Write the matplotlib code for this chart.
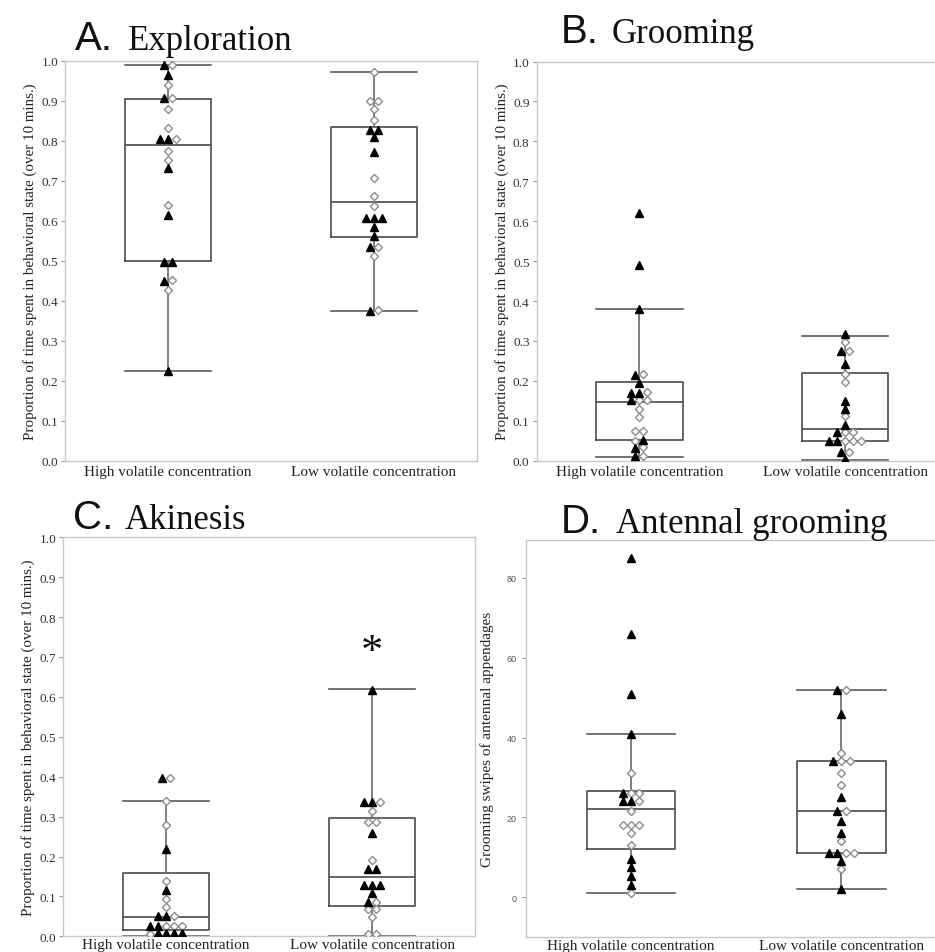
import numpy as np
import matplotlib.pyplot as plt

W, H = 935, 953
SERIF = 'Liberation Serif'
SANS = 'Liberation Sans'

groups = ['High volatile concentration', 'Low volatile concentration']

# A. Exploration - proportion of 10 min; triangles = filled, diamonds = open
expl_high_tri = [0.99, 0.965, 0.907, 0.805, 0.805, 0.732, 0.615, 0.497, 0.497, 0.451, 0.225]
expl_high_dia = [0.99, 0.941, 0.907, 0.88, 0.833, 0.805, 0.776, 0.753, 0.641, 0.452, 0.428]
expl_low_tri = [0.828, 0.828, 0.809, 0.772, 0.607, 0.607, 0.607, 0.584, 0.563, 0.536, 0.375]
expl_low_dia = [0.973, 0.901, 0.901, 0.88, 0.853, 0.7075, 0.662, 0.638, 0.536, 0.513, 0.377]
# whisker low, Q1, median, Q3, whisker high
expl_box = [[0.225, 0.50, 0.79, 0.905, 0.99], [0.375, 0.56, 0.648, 0.835, 0.972]]

# B. Grooming
groom_high_tri = [0.62, 0.49, 0.38, 0.215, 0.195, 0.17, 0.17, 0.152, 0.053, 0.033, 0.012]
groom_high_dia = [0.218, 0.172, 0.152, 0.152, 0.13, 0.11, 0.075, 0.075, 0.05, 0.035, 0.012]
groom_low_tri = [0.317, 0.276, 0.242, 0.15, 0.13, 0.089, 0.071, 0.05, 0.05, 0.023, 0.004]
groom_low_dia = [0.297, 0.276, 0.217, 0.196, 0.111, 0.071, 0.071, 0.05, 0.05, 0.05, 0.023]
groom_box = [[0.01, 0.053, 0.148, 0.198, 0.38], [0.003, 0.05, 0.08, 0.22, 0.312]]

# C. Akinesis
akin_high_tri = [0.396, 0.219, 0.116, 0.052, 0.052, 0.027, 0.027, 0.008, 0.008, 0.008, 0.008]
akin_high_dia = [0.396, 0.339, 0.28, 0.139, 0.0935, 0.0735, 0.052, 0.027, 0.027, 0.027, 0.005]
akin_low_tri = [0.618, 0.336, 0.336, 0.26, 0.169, 0.169, 0.129, 0.129, 0.129, 0.108, 0.087]
akin_low_dia = [0.336, 0.315, 0.286, 0.286, 0.19, 0.087, 0.068, 0.068, 0.049, 0.006, 0.006]
akin_box = [[0.0, 0.016, 0.048, 0.158, 0.34], [0.0, 0.077, 0.149, 0.297, 0.62]]

# D. Antennal grooming - swipe counts
ant_high_tri = [85, 66, 51, 41, 26, 24, 24, 9.5, 7.5, 5.3, 3]
ant_high_dia = [31, 26, 26, 24, 21.5, 18, 18, 18, 16, 13, 1]
ant_low_tri = [52, 46, 34, 25, 21.5, 19, 16, 11, 11, 9, 2]
ant_low_dia = [52, 36, 34, 34, 31, 28, 21.5, 14, 11, 11, 7]
ant_box = [[1, 12, 22, 26.5, 41], [2, 11, 21.5, 34, 52]]

prop_label = 'Proportion of time spent in behavioral state (over 10 mins.)'


def swarm(vals, tol, step):
    # points closer than tol share a row and get spread sideways, centred
    vals = np.asarray(vals, float)
    order = np.argsort(vals, kind='stable')
    offs = np.zeros(len(vals))
    rows, row = [], []
    for i in order:
        if row and vals[i] - vals[row[0]] >= tol:
            rows.append(row)
            row = []
        row.append(i)
    rows.append(row)
    for r in rows:
        n = len(r)
        for k, i in enumerate(r):
            offs[i] = (k - (n - 1) / 2) * step
    return offs


def px_axes(left, top, right, bottom):
    return fig.add_axes([left / W, 1 - bottom / H, (right - left) / W, (bottom - top) / H])


def panel(ax, tri, dia, box, ylim, tol, xpad=3):
    stats = [dict(whislo=b[0], q1=b[1], med=b[2], q3=b[3], whishi=b[4], fliers=[]) for b in box]
    ax.bxp(stats, positions=[0, 1], widths=0.42, capwidths=0.42, showfliers=False,
           manage_ticks=False,
           boxprops=dict(color='#4a4a4a', lw=1.2),
           medianprops=dict(color='#4a4a4a', lw=1.2),
           whiskerprops=dict(color='#6a6a6a', lw=1.2),
           capprops=dict(color='#5a5a5a', lw=1.2))
    for pos in range(2):
        vals = list(tri[pos]) + list(dia[pos])
        offs = swarm(vals, tol, 0.039)
        n = len(tri[pos])
        x = pos + offs
        ax.plot(x[n:], vals[n:], ls='none', marker=(4, 0, 0), ms=5.8,
                mfc='white', mec='#8c8c8c', mew=1.0, zorder=3)
        ax.plot(x[:n], vals[:n], ls='none', marker='^', ms=5.8,
                color='black', zorder=4)
    ax.set_xlim(-0.5, 1.5)
    ax.set_ylim(*ylim)
    ax.set_xticks([0, 1])
    ax.set_xticklabels(groups, fontfamily=SERIF, fontsize=11, color='#222222')
    ax.tick_params(axis='x', length=0, pad=xpad)
    ax.tick_params(axis='y', length=3, color='#999999', width=0.8)
    for s in ax.spines.values():
        s.set_color('#c8c8c8')
        s.set_linewidth(1.0)


def prop_axis(ax):
    ax.set_yticks(np.arange(0, 1.01, 0.1))
    ax.set_yticklabels(['%.1f' % v for v in np.arange(0, 1.01, 0.1)],
                       fontfamily=SERIF, fontsize=9.5, color='#333333')
    ax.tick_params(axis='y', pad=2)
    ax.set_ylabel(prop_label, fontfamily=SERIF, fontsize=10.8, color='#222222', labelpad=3)


def title(x, y, letter, word, gap):
    fig.text(x / W, 1 - y / H, letter, fontfamily=SANS, fontsize=29, color='#111111', va='baseline')
    fig.text((x + gap) / W, 1 - y / H, word, fontfamily=SERIF, fontsize=25, color='#111111', va='baseline')


fig = plt.figure(figsize=(W / 100, H / 100), dpi=100)

ax_a = px_axes(65, 62, 477, 462)
panel(ax_a, [expl_high_tri, expl_low_tri], [expl_high_dia, expl_low_dia], expl_box, (0, 1), 0.017)
prop_axis(ax_a)
title(75, 50, 'A.', 'Exploration', 53)

ax_b = px_axes(536.5, 62.5, 948, 461.7)
panel(ax_b, [groom_high_tri, groom_low_tri], [groom_high_dia, groom_low_dia], groom_box, (0, 1), 0.017)
prop_axis(ax_b)
title(561, 43, 'B.', 'Grooming', 51)

ax_c = px_axes(63.3, 538.3, 475, 937.3)
panel(ax_c, [akin_high_tri, akin_low_tri], [akin_high_dia, akin_low_dia], akin_box, (0, 1), 0.017, xpad=1)
prop_axis(ax_c)
ax_c.text(1, 0.712, '*', fontfamily=SERIF, fontsize=32, ha='center', va='center', color='#111111')
title(73, 529, 'C.', 'Akinesis', 52)

ax_d = px_axes(525.7, 540.7, 946.7, 938.3)
panel(ax_d, [ant_high_tri, ant_low_tri], [ant_high_dia, ant_low_dia], ant_box, (-10, 89.5), 1.7, xpad=1)
ax_d.set_yticks([0, 20, 40, 60, 80])
ax_d.set_yticklabels(['0', '20', '40', '60', '80'], fontfamily=SANS, fontsize=6.5, color='#555555')
ax_d.set_ylabel('Grooming swipes of antennal appendages', fontfamily=SERIF, fontsize=11,
                color='#222222', labelpad=9)
title(561, 533, 'D.', 'Antennal grooming', 55)

fig.savefig('out.png', dpi=100)
